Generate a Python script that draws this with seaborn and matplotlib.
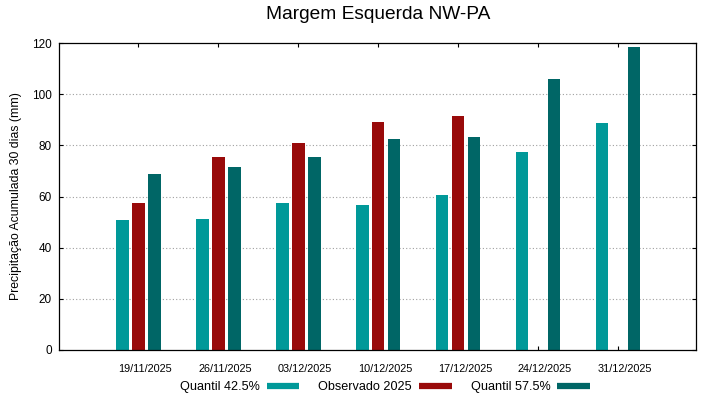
import numpy as np
import pandas as pd
import matplotlib
matplotlib.use("Agg")
import matplotlib.pyplot as plt
from matplotlib.lines import Line2D
from matplotlib.transforms import ScaledTranslation
import seaborn as sns

datas = ["19/11/2025", "26/11/2025", "03/12/2025", "10/12/2025",
         "17/12/2025", "24/12/2025", "31/12/2025"]
quantil_425 = [50.7, 51.1, 57.3, 56.6, 60.6, 77.3, 88.7]
observado_2025 = [57.3, 75.5, 80.9, 89.0, 91.6, np.nan, np.nan]
quantil_575 = [68.8, 71.4, 75.4, 82.5, 83.1, 105.9, 118.4]
series_names = ["Quantil 42.5%", "Observado 2025", "Quantil 57.5%"]
cores = ["#009999", "#990a0a", "#006666"]

df = pd.concat([
    pd.DataFrame({"data": datas, "serie": series_names[0], "valor": quantil_425}),
    pd.DataFrame({"data": datas, "serie": series_names[1], "valor": observado_2025}),
    pd.DataFrame({"data": datas, "serie": series_names[2], "valor": quantil_575}),
], ignore_index=True)

sns.set_theme(style="ticks")
plt.rcParams["font.family"] = ["Liberation Sans", "DejaVu Sans"]
plt.rcParams["text.color"] = "black"
plt.rcParams["axes.labelcolor"] = "black"

fig = plt.figure(figsize=(7.19, 3.99), dpi=100)
ax = fig.add_axes([59/719, 49/399, 637/719, 307/399])

sns.barplot(data=df, x="data", y="valor", hue="serie", order=datas,
            hue_order=series_names, palette=cores, width=0.6, gap=0.2,
            errorbar=None, saturation=1, linewidth=0, ax=ax, legend=False)

ax.set_xlim(-0.99, 6.975)
ax.set_ylim(0, 120)
ax.set_yticks([0, 20, 40, 60, 80, 100, 120])
for yv in [20, 40, 60, 80, 100]:
    ax.axhline(yv, color="#a0a0a0", linestyle=(0, (1, 2)), linewidth=0.8, zorder=0)
ax.set_axisbelow(True)

ax.set_xlabel("")
ax.set_ylabel("Precipitação Acumulada 30 dias (mm)", fontsize=8.8, labelpad=7)
ax.tick_params(axis="y", direction="in", left=True, right=True, length=3,
               width=0.8, labelsize=8.5, pad=5.3, color="black", labelcolor="black")
ax.tick_params(axis="x", direction="in", bottom=True, top=True, length=3,
               width=0.8, labelsize=7.8, pad=10, color="black", labelcolor="black")
offset = ScaledTranslation(7/100, 0, fig.dpi_scale_trans)
for lab in ax.get_xticklabels():
    lab.set_transform(lab.get_transform() + offset)

for sp in ax.spines.values():
    sp.set_visible(True)
    sp.set_color("black")
    sp.set_linewidth(0.9)

fig.suptitle("Margem Esquerda NW-PA", fontsize=13.8, x=378/719, y=0.985, va="top",
             color="black")

handles = [Line2D([0], [0], color=c, linewidth=4.5, solid_capstyle="butt") for c in cores]
fig.legend(handles, series_names, loc="center", bbox_to_anchor=(385/719, 1 - 387/399),
           ncol=3, frameon=False, markerfirst=False, fontsize=9.1,
           handlelength=2.6, handletextpad=0.55, columnspacing=1.5,
           borderaxespad=0, borderpad=0, labelcolor="black")

fig.savefig("out.png", dpi=100)
